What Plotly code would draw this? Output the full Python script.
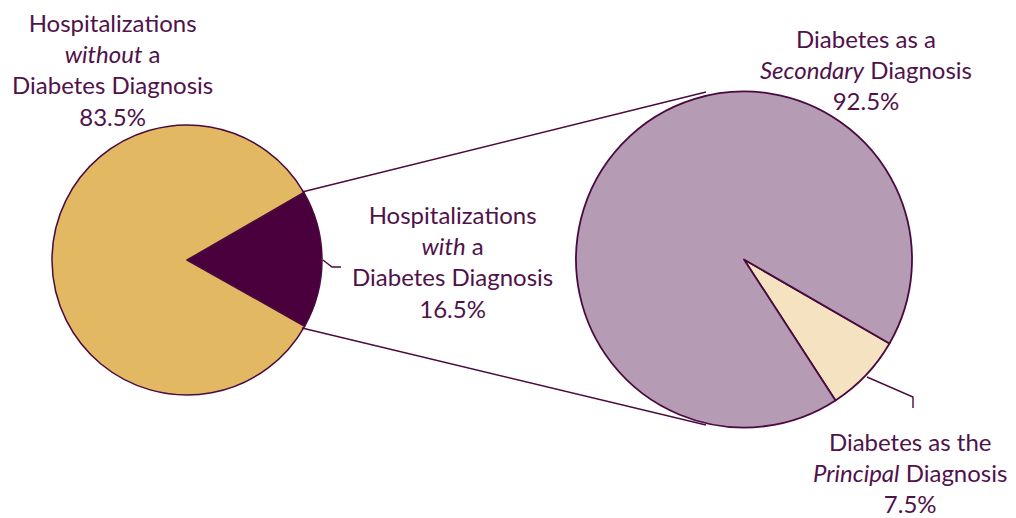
import plotly.graph_objects as go

# Share of hospitalizations with / without a diabetes diagnosis
overall_labels = ["With a diabetes diagnosis", "Without a diabetes diagnosis"]
overall_values = [16.5, 83.5]
overall_colors = ["#4A003C", "#E3B862"]

# Breakdown of hospitalizations with a diabetes diagnosis
detail_labels = ["Principal diagnosis", "Secondary diagnosis"]
detail_values = [7.5, 92.5]
detail_colors = ["#F5E2C0", "#B69BB5"]

W, H = 1016, 518
OUTLINE = "#4A0A3E"
TEXT = "#50124A"
FONT = "Lato"


def px_x(x):
    return x / W


def px_y(y):
    return 1 - y / H


fig = go.Figure()

fig.add_trace(go.Pie(
    labels=overall_labels, values=overall_values,
    marker=dict(colors=overall_colors, line=dict(color=OUTLINE, width=1.5)),
    sort=False, direction="clockwise", rotation=60,
    textinfo="none", hoverinfo="label+value",
    domain=dict(x=[px_x(52), px_x(322)], y=[px_y(395), px_y(125)]),
    showlegend=False,
))

fig.add_trace(go.Pie(
    labels=detail_labels, values=detail_values,
    marker=dict(colors=detail_colors, line=dict(color=OUTLINE, width=1.8)),
    sort=False, direction="clockwise", rotation=120,
    textinfo="none", hoverinfo="label+value",
    domain=dict(x=[px_x(576), px_x(912)], y=[px_y(428), px_y(91)]),
    showlegend=False,
))

# Connector lines between the two pies and label leaders
segments = [
    [(302, 192), (706, 92)],
    [(302, 328), (706, 425)],
    [(323, 260), (332, 267), (341, 267)],
    [(867, 377), (913, 397), (913, 408)],
]
for pts in segments:
    path = "M " + " L ".join(f"{px_x(x)},{px_y(y)}" for x, y in pts)
    fig.add_shape(type="path", path=path, xref="paper", yref="paper",
                  line=dict(color=OUTLINE, width=1.4))

labels = [
    (112, 70, "Hospitalizations<br><i>without</i> a<br>Diabetes Diagnosis<br>{:.1f}%".format(overall_values[1])),
    (452, 261, "Hospitalizations<br><i>with</i> a<br>Diabetes Diagnosis<br>{:.1f}%".format(overall_values[0])),
    (866, 70, "Diabetes as a<br><i>Secondary</i> Diagnosis<br>{:.1f}%".format(detail_values[1])),
    (910, 472, "Diabetes as the<br><i>Principal</i> Diagnosis<br>{:.1f}%".format(detail_values[0])),
]
for x, y, t in labels:
    fig.add_annotation(x=px_x(x), y=px_y(y), xref="paper", yref="paper",
                       text=t, showarrow=False, align="center",
                       xanchor="center", yanchor="middle", borderpad=0,
                       font=dict(family=FONT, size=24, color=TEXT))

fig.update_layout(
    width=W, height=H,
    margin=dict(l=0, r=0, t=0, b=0),
    paper_bgcolor="white", plot_bgcolor="white",
)

fig.write_html("out.html")
